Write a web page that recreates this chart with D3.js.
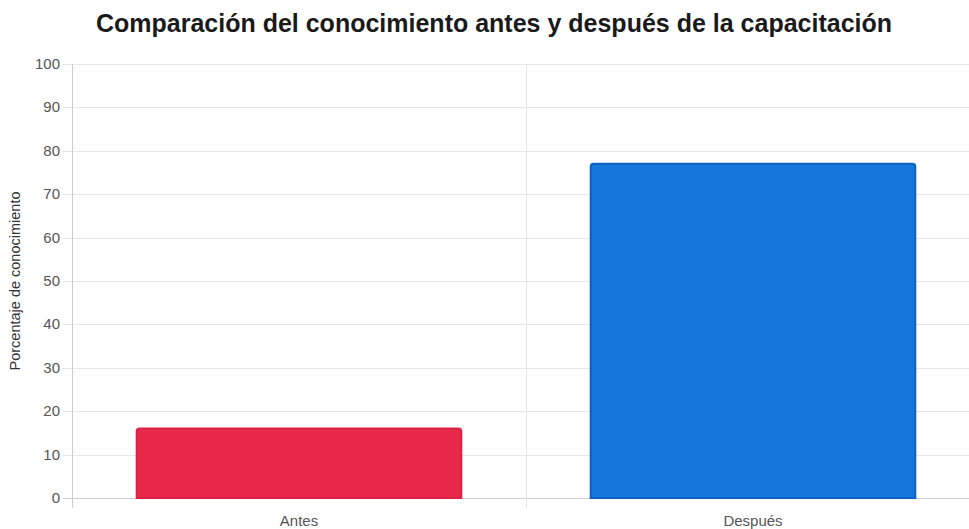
<!DOCTYPE html>
<html>
<head>
<meta charset="utf-8">
<script src="https://cdn.jsdelivr.net/npm/d3@7"></script>
<style>
  body { margin: 0; background: #fff; overflow: hidden; }
  svg { display: block; }
</style>
</head>
<body>
<svg id="chart"></svg>
<script>
  // data
  var categories = ["Antes", "Después"];
  var values = [16, 77];
  var bar_colors = ["#e6284a", "#1477d9"];
  var border_colors = ["#dc2244", "#0d60c5"];
  var y_ticks = [0, 10, 20, 30, 40, 50, 60, 70, 80, 90, 100];

  var width = 969,
    height = 529;

  // plot runs a little past the right edge, as in the original
  var margin = { top: 64, right: -11, bottom: 31, left: 72 };
  var font = "'Liberation Sans', Arial, Helvetica, sans-serif";

  var svg = d3.select("#chart").attr("width", width).attr("height", height);

  var xScale = d3
    .scaleBand()
    .domain(categories)
    .range([margin.left, width - margin.right])
    .paddingInner(0)
    .paddingOuter(0);

  var yScale = d3
    .scaleLinear()
    .domain([0, 100])
    .range([height - margin.bottom, margin.top]);

  var grid = svg.append("g");

  // horizontal grid lines + tick marks
  grid
    .selectAll("line.hgrid")
    .data(y_ticks)
    .enter()
    .append("line")
    .attr("class", "hgrid")
    .attr("x1", margin.left - 9)
    .attr("x2", width)
    .attr("y1", function (d) { return Math.round(yScale(d)) + 0.5; })
    .attr("y2", function (d) { return Math.round(yScale(d)) + 0.5; })
    .attr("stroke", function (d) { return d === 0 ? "#cfcfcf" : "#e6e6e6"; })
    .attr("stroke-width", 1);

  // vertical grid lines at band edges
  var edges = [margin.left].concat(
    categories.map(function (c) { return xScale(c) + xScale.bandwidth(); })
  );
  grid
    .selectAll("line.vgrid")
    .data(edges)
    .enter()
    .append("line")
    .attr("class", "vgrid")
    .attr("x1", function (d) { return Math.round(d) + 0.5; })
    .attr("x2", function (d) { return Math.round(d) + 0.5; })
    .attr("y1", margin.top)
    .attr("y2", height - margin.bottom + 10)
    .attr("stroke", function (d, i) { return i === 0 ? "#cfcfcf" : "#e3e3e3"; })
    .attr("stroke-width", 1);

  // y tick labels
  svg
    .append("g")
    .selectAll("text")
    .data(y_ticks)
    .enter()
    .append("text")
    .attr("x", margin.left - 12)
    .attr("y", function (d) { return yScale(d) + 5; })
    .attr("text-anchor", "end")
    .attr("font-family", font)
    .attr("font-size", "15px")
    .attr("fill", "#555")
    .text(function (d) { return d; });

  // bars
  var barW = xScale.bandwidth() * 0.715;
  var r = 3;
  svg
    .append("g")
    .selectAll("path")
    .data(values)
    .enter()
    .append("path")
    .attr("d", function (d, i) {
      var x0 = xScale(categories[i]) + (xScale.bandwidth() - barW) / 2,
        x1 = x0 + barW,
        y0 = yScale(d),
        y1 = yScale(0);
      return (
        "M" + x0 + "," + y1 +
        "V" + (y0 + r) +
        "Q" + x0 + "," + y0 + " " + (x0 + r) + "," + y0 +
        "H" + (x1 - r) +
        "Q" + x1 + "," + y0 + " " + x1 + "," + (y0 + r) +
        "V" + y1 + "Z"
      );
    })
    .attr("fill", function (d, i) { return bar_colors[i]; })
    .attr("stroke", function (d, i) { return border_colors[i]; })
    .attr("stroke-width", 2);

  // x labels
  svg
    .append("g")
    .selectAll("text")
    .data(categories)
    .enter()
    .append("text")
    .attr("x", function (d) { return xScale(d) + xScale.bandwidth() / 2; })
    .attr("y", height - 3)
    .attr("text-anchor", "middle")
    .attr("font-family", font)
    .attr("font-size", "15px")
    .attr("fill", "#555")
    .text(function (d) { return d; });

  // y axis title
  svg
    .append("text")
    .attr("transform", "translate(20," + (margin.top + (height - margin.bottom - margin.top) / 2) + ") rotate(-90)")
    .attr("text-anchor", "middle")
    .attr("font-family", font)
    .attr("font-size", "14.5px")
    .attr("fill", "#333")
    .text("Porcentaje de conocimiento");

  // title
  svg
    .append("text")
    .attr("x", 494)
    .attr("y", 32)
    .attr("text-anchor", "middle")
    .attr("font-family", font)
    .attr("font-size", "25px")
    .attr("font-weight", "bold")
    .attr("fill", "#1a1a1a")
    .text("Comparación del conocimiento antes y después de la capacitación");
</script>
</body>
</html>
